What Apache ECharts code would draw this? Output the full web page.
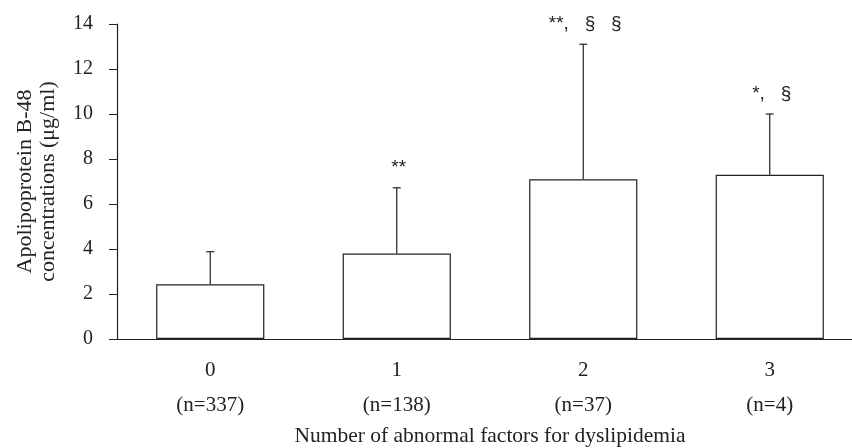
<!DOCTYPE html>
<html>
<head>
<meta charset="utf-8">
<script src="https://cdn.jsdelivr.net/npm/echarts@6/dist/echarts.min.js"></script>
<style>
  html, body { margin: 0; padding: 0; background: #fff; }
  #chart { width: 852px; height: 448px; }
</style>
</head>
<body>
<div id="chart"></div>
<script>
  // data
  var groups = ['0', '1', '2', '3'];
  var counts = ['(n=337)', '(n=138)', '(n=37)', '(n=4)'];
  var means = [2.43, 3.8, 7.1, 7.3];
  var upperSD = [3.88, 6.72, 13.1, 10.0];
  var marks = ['', '**', '**,   §   §', '*,   §'];

  var serif = 'Liberation Serif';
  var ink = '#222';

  var chart = echarts.init(document.getElementById('chart'));

  var errData = [];
  for (var i = 0; i < groups.length; i++) {
    errData.push([i, means[i], upperSD[i]]);
  }

  var option = {
    animation: false,
    backgroundColor: '#fff',
    grid: { left: 117, top: 24, width: 746, height: 315, containLabel: false, outerBoundsMode: 'none' },
    xAxis: {
      type: 'category',
      data: groups,
      axisLine: { lineStyle: { color: ink, width: 1.2 } },
      axisTick: { inside: true, length: 6, lineStyle: { color: ink } },
      axisLabel: {
        margin: 14,
        formatter: function (v, idx) {
          return '{a|' + v + '}\n{b|' + counts[idx] + '}';
        },
        rich: {
          a: { fontFamily: serif, fontSize: 21, color: ink, lineHeight: 35 },
          b: { fontFamily: serif, fontSize: 21, color: ink, lineHeight: 35 }
        }
      },
      name: 'Number of abnormal factors for dyslipidemia',
      nameLocation: 'middle',
      nameGap: 86,
      nameTextStyle: { fontFamily: serif, fontSize: 21.5, color: ink }
    },
    yAxis: {
      type: 'value',
      min: 0,
      max: 14,
      interval: 2,
      splitLine: { show: false },
      axisLine: { show: true, lineStyle: { color: ink, width: 1.2 } },
      axisTick: { show: true, length: 8, lineStyle: { color: ink } },
      axisLabel: { margin: 24, fontFamily: serif, fontSize: 20, color: ink },
      name: 'Apolipoprotein B-48\nconcentrations (μg/ml)',
      nameLocation: 'middle',
      nameGap: 57,
      nameTextStyle: { fontFamily: serif, fontSize: 22, color: ink, lineHeight: 23 }
    },
    series: [
      {
        type: 'bar',
        data: means,
        barWidth: '58%',
        itemStyle: { color: '#fff', borderColor: ink, borderWidth: 1.2 }
      },
      {
        type: 'custom',
        data: errData,
        z: 5,
        renderItem: function (params, api) {
          var base = api.coord([api.value(0), api.value(1)]);
          var top = api.coord([api.value(0), api.value(2)]);
          var x = base[0];
          var children = [
            { type: 'line', shape: { x1: x, y1: base[1], x2: x, y2: top[1] },
              style: { stroke: ink, lineWidth: 1.2 } },
            { type: 'line', shape: { x1: x - 4, y1: top[1], x2: x + 4, y2: top[1] },
              style: { stroke: ink, lineWidth: 1.2 } }
          ];
          var label = marks[params.dataIndex];
          if (label) {
            children.push({
              type: 'text',
              style: {
                text: label, x: x + 2, y: top[1] - 20,
                align: 'center', verticalAlign: 'middle',
                fontFamily: 'Liberation Sans', fontSize: 19, fill: ink
              }
            });
          }
          return { type: 'group', children: children };
        }
      }
    ]
  };

  chart.setOption(option);
</script>
</body>
</html>
